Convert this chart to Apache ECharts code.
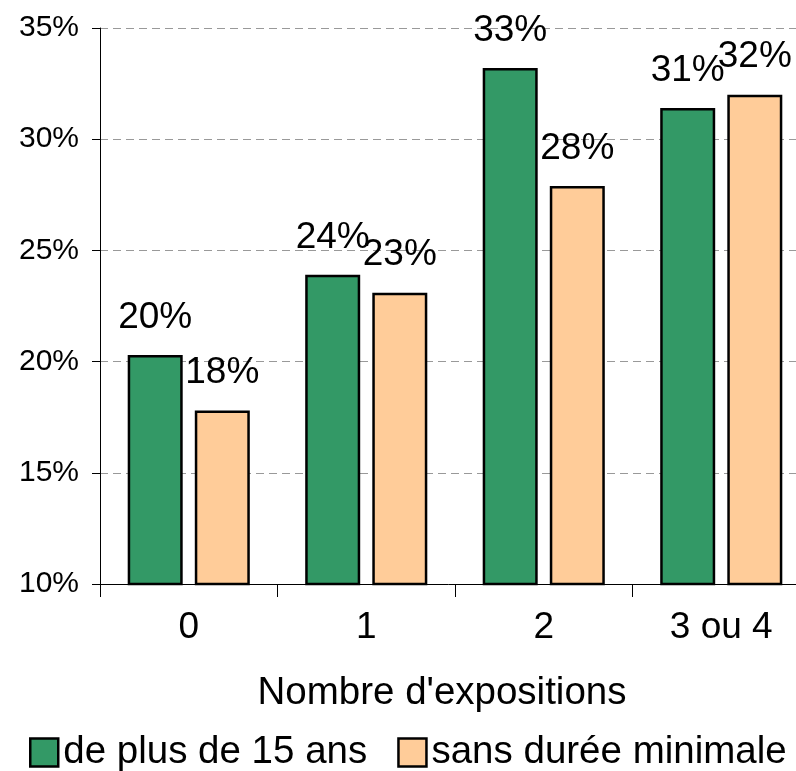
<!DOCTYPE html>
<html>
<head>
<meta charset="utf-8">
<script src="https://cdn.jsdelivr.net/npm/echarts@6/dist/echarts.min.js"></script>
<style>
  html, body { margin: 0; padding: 0; background: #fff; }
  #chart { width: 796px; height: 771px; }
</style>
</head>
<body>
<div id="chart"></div>
<script>
// catégories : nombre d'expositions
const categories = ['0', '1', '2', '3 ou 4'];
// séries (en %)
const plus15ans = [20.3, 23.9, 33.2, 31.4];
const sansDuree = [17.8, 23.1, 27.9, 32.0];
const seriesNames = ['de plus de 15 ans', 'sans durée minimale'];

const FONT = '"Liberation Sans", Arial, sans-serif';

const chart = echarts.init(document.getElementById('chart'));

function barSeries(name, data, color) {
  return {
    name: name,
    type: 'bar',
    data: data,
    barWidth: 55,
    barGap: '22%',
    itemStyle: { color: color, borderColor: '#000', borderWidth: 2.5 },
    label: {
      show: true,
      position: 'top',
      distance: 19,
      formatter: p => Math.round(p.value) + '%',
      fontFamily: FONT,
      fontSize: 37,
      color: '#000'
    },
    emphasis: { disabled: true }
  };
}

chart.setOption({
  animation: false,
  backgroundColor: '#fff',
  grid: {
    left: 100, top: 28, right: -14, bottom: 187,
    containLabel: false,
    outerBoundsMode: 'none'
  },
  legend: {
    data: seriesNames,
    left: 24,
    top: 728,
    itemWidth: 28,
    itemHeight: 28,
    itemGap: 30,
    icon: 'rect',
    textStyle: { fontFamily: FONT, fontSize: 38.5, color: '#000' },
    itemStyle: { borderColor: '#000', borderWidth: 2.5 }
  },
  xAxis: {
    type: 'category',
    data: categories,
    name: "Nombre d'expositions",
    nameLocation: 'middle',
    nameGap: 90,
    nameTextStyle: { fontFamily: FONT, fontSize: 38.5, color: '#000', padding: [0, 26, 0, 0] },
    axisLine: { lineStyle: { color: '#000', width: 1 } },
    axisTick: { show: true, length: 13, lineStyle: { color: '#000' } },
    axisLabel: { fontFamily: FONT, fontSize: 37, color: '#000', margin: 25 },
    splitLine: { show: false }
  },
  yAxis: {
    type: 'value',
    min: 10,
    max: 35,
    interval: 5,
    axisLine: { show: true, lineStyle: { color: '#000', width: 1 } },
    axisTick: { show: true, length: 8, lineStyle: { color: '#000' } },
    axisLabel: {
      formatter: '{value}%',
      fontFamily: FONT, fontSize: 30, color: '#000', margin: 21
    },
    splitLine: {
      show: true,
      lineStyle: { color: '#999', type: [8, 5], width: 1 }
    }
  },
  series: [
    barSeries(seriesNames[0], plus15ans, '#339966'),
    barSeries(seriesNames[1], sansDuree, '#FFCC99')
  ]
});
</script>
</body>
</html>
